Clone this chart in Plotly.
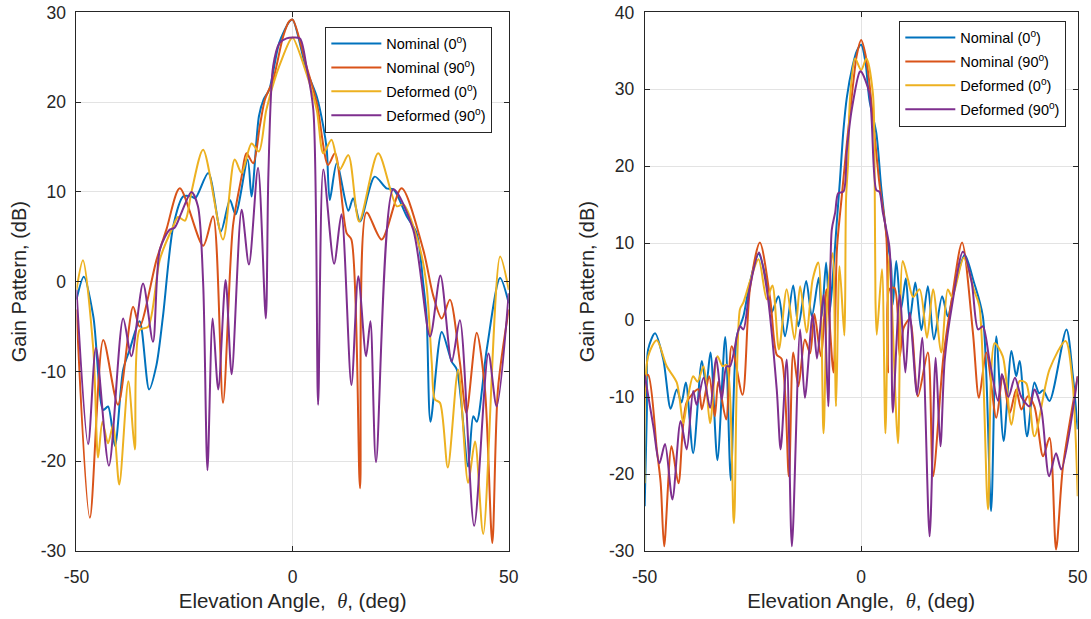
import plotly.graph_objects as go

# ---------------- Left chart data (deg, dB) ----------------
L_nom0_x = [-50, -48.3, -46.1, -43.8, -42.7, -41.1, -39.2, -37.7, -35.4, -33.2, -31.5, -30.0, -27.6, -25.3, -23.4, -22.5, -19.5, -16.6, -14.5, -13.2, -10.4, -9.5, -7.8, -6.7, -5.4, -3.1, -0.7, 0,
            3.2, 5.6, 7.1, 7.9, 8.6, 10.2, 12.9, 14.0, 15.6, 19.0, 21.7, 23.3, 26.4, 28.7, 30.2, 31.0, 31.9, 34.5, 36.8, 38.0, 40.6, 41.8, 42.6, 44.9, 48.0, 50]
L_nom0_y = [-2.0, 0.55, -3.9, -14.3, -13.9, -18.3, -9.8, -7.6, -4.4, -12.0, -9.3, -3.9, 6.2, 9.5, 9.5, 9.3, 12.1, 5.6, 9.1, 7.5, 13.6, 9.5, 18.4, 20.3, 21.4, 26.6, 29.0, 29.2,
            23.6, 20.6, 17.3, 14.7, 9.1, 13.2, 7.9, 9.3, 6.7, 11.7, 10.4, 10.3, 7.3, 5.4, -0.1, -3.9, -15.6, -5.6, -8.9, -9.8, -20.6, -15.0, -15.6, -7.6, 0.4, -2.4]

L_nom90_x = [-50, -46.9, -43.8, -40.4, -36.9, -35.4, -31.5, -29.2, -26.1, -20.7, -18.4, -16.1, -13.8, -11.8, -10.7, -9.1, -7.6, -6.4, -4.5, -2.2, -0.8, 0,
             3.2, 5.6, 8.2, 9.8, 12.5, 13.6, 15.6, 17.1, 20.6, 25.2, 30.2, 32.5, 34.5, 36.4, 38.7, 40.2, 42.6, 44.5, 46.2, 47.5, 50]
L_nom90_y = [-3.1, -26.3, -6.5, -13.7, -2.8, -5.0, 2.4, 5.8, 10.4, 4.0, 7.3, -13.5, 6.2, 11.7, 14.3, 13.2, 17.3, 20.3, 22.5, 27.3, 29.0, 29.2,
             24.0, 19.9, 13.0, 14.3, 5.4, 4.7, -23.0, 7.7, 4.7, 10.4, 3.6, -1.5, -4.1, -2.0, -9.0, -14.6, -5.7, -12.0, -29.1, -12.0, -3.1]

L_def0_x = [-50, -48.5, -46.1, -45.0, -44.0, -42.7, -41.5, -40.1, -38.0, -36.5, -35.4, -33.4, -30.7, -27.6, -26.5, -24.9, -23.4, -20.7, -16.1, -13.4, -11.8, -9.5, -7.8, -6.1, -3.7, -0.6, 0,
            3.2, 5.6, 7.1, 9.0, 10.9, 12.9, 15.4, 19.8, 24.1, 25.6, 29.5, 31.0, 32.2, 32.9, 34.1, 35.9, 38.3, 40.6, 42.2, 44.1, 48.0, 50]
L_def0_y = [-0.9, 2.4, -7.6, -19.6, -15.6, -18.0, -15.9, -22.6, -11.1, -18.7, -5.4, -5.0, 2.5, 6.2, 7.2, 6.8, 10.0, 14.7, 4.7, 13.6, 12.1, 15.4, 14.5, 19.1, 23.2, 26.9, 27.2,
            23.2, 19.1, 14.3, 15.8, 12.5, 14.1, 6.7, 14.3, 8.4, 8.6, 3.6, -0.5, -9.1, -13.1, -13.5, -20.7, -9.8, -22.4, -17.8, -28.1, 2.8, -0.9]

L_def90_x = [-50, -47.3, -45.5, -42.5, -39.2, -37.3, -34.6, -32.3, -30.7, -28.4, -27.3, -25.7, -23.4, -21.9, -20.7, -19.7, -18.5, -17.2, -15.5, -14.1, -11.8, -10.1, -8.0, -6.2, -5.6, -4.5, -3.0, -1.4, 0,
             1.7, 3.2, 4.8, 5.9, 7.1, 9.6, 11.3, 13.6, 15.2, 17.0, 18.0, 19.3, 23.3, 27.9, 31.8, 34.2, 36.8, 38.7, 42.0, 45.3, 47.2, 50]
L_def90_y = [-0.9, -18.1, -7.4, -20.5, -4.1, -8.3, -0.2, -6.7, 3.6, 5.8, 6.0, 7.7, 10.0, 8.4, -0.1, -21.0, -4.1, -12.0, 0.2, -10.3, 8.0, 1.9, 12.7, -4.1, 12.0, 24.0, 26.6, 27.1, 27.2,
             27.1, 24.0, 19.1, -13.7, 12.5, 2.0, 7.5, -11.5, 0.6, -8.3, -4.4, -20.1, 10.3, 5.8, -6.1, 0.7, -8.9, -4.3, -27.2, -8.0, -13.9, -1.3]

# ---------------- Right chart data (deg, dB) ----------------
R_nom0_x = [-50, -49.5, -49.2, -47.6, -45.7, -44.0, -42.6, -41.5, -40.5, -38.8, -36.8, -35.8, -34.8, -33.2, -31.4, -30.1, -28.7, -27.2, -25.7, -23.7, -21.8, -20.7, -19.1, -17.6, -15.7, -14.5, -12.7, -11.4, -9.8, -9.1, -8.1, -7.3, -6.5, -5.6, -4.9, -4.1, -3.3, -2.0, -1.0, 0,
            1.0, 1.9, 3.5, 4.6, 5.8, 6.9, 7.3, 8.1, 9.2, 10.3, 11.2, 12.5, 13.9, 15.4, 16.8, 18.7, 20.0, 21.5, 23.9, 26.0, 28.1, 30.0, 31.2, 32.9, 34.7, 35.8, 36.6, 38.3, 40.0, 41.1, 42.0, 43.5, 47.4, 48.9, 50]
R_nom0_y = [-24.2, -12.0, -3.8, -1.7, -5.1, -11.5, -9.0, -10.7, -8.1, -17.3, -5.3, -8.5, -4.2, -18.2, -2.2, -20.8, -2.1, 0.5, 4.9, 8.6, 4.9, 1.0, 3.1, -2.1, 4.5, -0.8, 5.1, 0.5, 5.5, 0.5, 7.5, 1.0, 6.0, 13.0, 18.2, 24.7, 29.0, 33.0, 35.0, 35.8,
            33.5, 28.6, 24.3, 17.4, 11.3, 7.0, 2.0, 7.7, 1.4, 5.4, 0.0, 4.9, -1.3, 4.4, -2.5, 3.1, 0.5, 4.0, 8.5, 5.0, 0.5, -24.8, -2.1, -15.7, -4.0, -7.3, -5.3, -15.1, -8.1, -9.5, -9.1, -10.5, -1.2, -7.3, -14.2]

R_nom90_x = [-50, -49.2, -47.2, -46.3, -45.5, -43.8, -42.2, -40.3, -37.6, -36.8, -35.1, -33.8, -33.0, -31.2, -29.9, -27.4, -25.7, -23.4, -21.0, -19.5, -18.4, -16.7, -15.7, -14.5, -13.0, -11.8, -10.8, -9.3, -8.0, -6.4, -5.6, -4.5, -3.3, -2.0, -1.0, 0,
             1.0, 1.9, 4.2, 5.8, 6.2, 6.5, 7.7, 8.9, 9.8, 11.2, 13.1, 15.4, 16.6, 19.0, 21.0, 23.3, 25.8, 27.2, 28.9, 31.2, 32.7, 34.3, 35.8, 37.0, 38.5, 40.0, 42.0, 43.5, 45.0, 46.6, 50]
R_nom90_y = [-7.3, -7.1, -16.8, -21.2, -29.4, -16.4, -21.2, -10.7, -9.0, -11.6, -7.3, -12.5, -8.0, -12.9, -3.4, -9.7, 4.0, 10.1, 2.7, -4.5, -5.0, -20.3, -4.2, -8.6, -2.5, -4.3, 0.8, -4.7, 4.0, -6.8, 9.2, 16.0, 23.0, 30.0, 34.5, 36.4,
             34.5, 30.8, 17.8, 11.0, -6.8, 4.0, 4.2, -4.7, -1.0, 0.1, -9.9, -4.2, -20.3, -4.7, 3.0, 10.1, -1.6, -10.1, -4.2, -12.7, -7.3, -12.1, -9.0, -11.6, -9.9, -11.2, -17.7, -15.3, -29.8, -19.0, -7.3]

R_def0_x = [-50, -49.2, -47.2, -44.9, -42.6, -41.1, -40.3, -38.8, -37.8, -36.4, -34.9, -33.2, -32.0, -31.1, -29.4, -28.0, -27.2, -25.7, -23.7, -21.8, -20.5, -19.0, -17.2, -15.4, -14.1, -12.6, -11.2, -9.9, -8.7, -7.8, -6.6, -5.8, -5.0, -3.9, -3.7, -3.5, -3.0, -2.6, -1.4, 0,
            1.2, 2.7, 3.1, 3.3, 3.6, 4.8, 5.6, 6.5, 8.5, 9.6, 10.8, 12.0, 13.5, 15.2, 16.6, 18.5, 20.0, 21.0, 23.7, 26.0, 27.3, 29.3, 30.8, 32.7, 34.7, 36.6, 38.1, 40.0, 43.5, 47.2, 48.8, 50]
R_def0_y = [-21.2, -4.7, -2.6, -6.0, -8.1, -13.4, -11.0, -7.3, -8.0, -6.0, -13.4, -4.7, -6.0, -5.8, -26.4, 1.4, 2.3, 5.0, 7.9, 2.7, 4.5, -3.8, 4.0, -2.5, 4.4, -1.6, 5.3, 7.5, -14.7, 3.0, 8.7, -11.2, 7.0, -2.0, 2.6, 15.6, 20.8, 28.6, 34.0, 32.5,
            34.0, 29.5, 20.0, 2.6, -1.9, 6.6, -14.7, 8.5, -16.0, 7.7, 5.3, 3.0, 4.0, -2.3, 4.0, -4.2, 4.0, 3.0, 8.1, 4.0, 1.8, -24.6, -3.0, -4.7, -13.6, -7.9, -8.2, -15.1, -6.4, -2.7, -8.0, -22.9]

R_def90_x = [-50, -48.0, -46.6, -45.3, -43.6, -41.7, -40.3, -38.8, -38.0, -36.4, -34.9, -33.5, -32.2, -31.1, -30.3, -28.0, -27.2, -25.7, -23.6, -21.8, -19.5, -18.6, -17.2, -16.0, -14.1, -13.0, -11.2, -10.2, -8.7, -7.6, -6.8, -6.0, -5.3, -4.1, -3.3, -2.2, -0.3, 0,
             1.9, 3.5, 4.2, 5.0, 6.5, 6.9, 7.3, 8.9, 10.2, 11.2, 12.9, 14.1, 15.8, 17.2, 18.3, 19.3, 21.0, 23.5, 25.5, 27.0, 28.1, 29.6, 31.6, 32.5, 34.0, 35.5, 37.0, 38.9, 40.0, 41.6, 43.4, 45.0, 46.2, 50]
R_def90_y = [-7.1, -13.8, -18.6, -16.1, -23.3, -13.1, -16.8, -9.2, -11.0, -7.5, -11.4, -4.9, -10.3, -6.0, -6.0, -0.8, -1.2, 4.3, 8.8, 4.0, -9.0, -16.8, -5.1, -29.4, -1.2, -10.1, 0.7, -5.0, 3.3, -11.2, 11.7, 14.0, 16.5, 16.7, 22.1, 27.3, 32.3, 32.3,
             29.5, 16.9, 16.7, 14.0, 9.6, 4.8, -12.0, 3.3, -6.8, 0.95, -9.7, -2.3, -28.1, -4.9, -16.4, -5.1, 2.0, 8.9, 5.0, -1.2, -0.8, -5.1, -10.5, -7.0, -10.0, -7.5, -10.0, -11.2, -9.0, -11.6, -20.3, -17.3, -19.4, -7.3]

series_names = ["Nominal (0<sup>o</sup>)", "Nominal (90<sup>o</sup>)", "Deformed (0<sup>o</sup>)", "Deformed (90<sup>o</sup>)"]
series_colors = ["#0072BD", "#D95319", "#EDB120", "#7E2F8E"]

x_tickvals = [-50, 0, 50]
x_ticktext = ["-50", "0", "50"]
yL_tickvals = [-30, -20, -10, 0, 10, 20, 30]
yL_ticktext = ["-30", "-20", "-10", "0", "10", "20", "30"]
yR_tickvals = [-30, -20, -10, 0, 10, 20, 30, 40]
yR_ticktext = ["-30", "-20", "-10", "0", "10", "20", "30", "40"]

left_data = [(L_nom0_x, L_nom0_y), (L_nom90_x, L_nom90_y), (L_def0_x, L_def0_y), (L_def90_x, L_def90_y)]
right_data = [(R_nom0_x, R_nom0_y), (R_nom90_x, R_nom90_y), (R_def0_x, R_def0_y), (R_def90_x, R_def90_y)]

FONT = "Liberation Sans, Arial, Helvetica, sans-serif"
AX = "#262626"
GRID = "#e3e3e3"

fig = go.Figure()
for i, (xs, ys) in enumerate(left_data):
    fig.add_trace(go.Scatter(x=xs, y=ys, mode="lines", name=series_names[i],
                             line=dict(color=series_colors[i], width=2, shape="spline", smoothing=0.8),
                             xaxis="x", yaxis="y", legend="legend", legendgroup="L%d" % i))
for i, (xs, ys) in enumerate(right_data):
    fig.add_trace(go.Scatter(x=xs, y=ys, mode="lines", name=series_names[i],
                             line=dict(color=series_colors[i], width=2, shape="spline", smoothing=0.8),
                             xaxis="x2", yaxis="y2", legend="legend2", legendgroup="R%d" % i))

theta = "<span style=\"font-family:'Liberation Serif'\"><i>θ</i></span>"
xtitle = "Elevation Angle,  " + theta + ", (deg)"

common_ax = dict(showline=True, linecolor=AX, linewidth=1, mirror="ticks", ticks="inside", ticklen=5,
                 tickcolor=AX, showgrid=True, gridcolor=GRID, gridwidth=1, zeroline=False, automargin=False,
                 tickfont=dict(family=FONT, size=17.5, color=AX))

fig.update_layout(
    width=1091, height=619, autosize=False,
    margin=dict(l=0, r=0, t=0, b=0),
    paper_bgcolor="white", plot_bgcolor="white",
    font=dict(family=FONT, color=AX),
    xaxis=dict(domain=[0.0701, 0.4663], range=[-50, 50], tickvals=x_tickvals, ticktext=x_ticktext, anchor="y",
               ticklabelstandoff=10,
               title=dict(text=xtitle, font=dict(size=20.5, color=AX), standoff=7), **common_ax),
    yaxis=dict(domain=[0.1099, 0.980], range=[-30, 30], tickvals=yL_tickvals, ticktext=yL_ticktext, anchor="x",
               ticklabelstandoff=6,
               title=dict(text="Gain Pattern, (dB)", font=dict(size=20, color=AX), standoff=8), **common_ax),
    xaxis2=dict(domain=[0.5909, 0.9878], range=[-50, 50], tickvals=x_tickvals, ticktext=x_ticktext, anchor="y2",
                ticklabelstandoff=10,
                title=dict(text=xtitle, font=dict(size=20.5, color=AX), standoff=7), **common_ax),
    yaxis2=dict(domain=[0.1099, 0.980], range=[-30, 40], tickvals=yR_tickvals, ticktext=yR_ticktext, anchor="x2",
                ticklabelstandoff=6,
                title=dict(text="Gain Pattern, (dB)", font=dict(size=20, color=AX), standoff=8), **common_ax),
    legend=dict(x=0.2982, y=0.9569, xanchor="left", yanchor="top", bgcolor="white", bordercolor=AX, borderwidth=1,
                font=dict(family=FONT, size=14.5, color="#000000"), itemwidth=50, tracegroupgap=2),
    legend2=dict(x=0.8243, y=0.9666, xanchor="left", yanchor="top", bgcolor="white", bordercolor=AX, borderwidth=1,
                 font=dict(family=FONT, size=14.5, color="#000000"), itemwidth=50, tracegroupgap=2),
)

fig.write_html("out.html")
